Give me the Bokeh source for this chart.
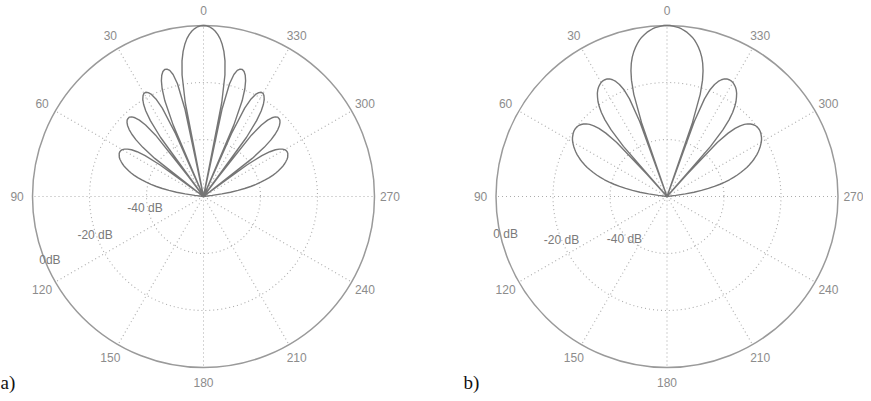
import numpy as np
from bokeh.plotting import figure
from bokeh.layouts import row
from bokeh.models import Range1d, Label
from bokeh.core.properties import value
from bokeh.embed import file_html
from bokeh.resources import INLINE

# ---------------- data ----------------
DB_MIN = -60.0
RING_DB = [-40, -20, 0]
RING_LABELS_A = ["-40 dB", "-20 dB", "0dB"]
RING_LABELS_B = ["-40 dB", "-20 dB", "0 dB"]
ANGLE_TICKS = [0, 30, 60, 90, 120, 150, 180, 210, 240, 270, 300, 330]
ANGLE_LABELS = [str(a) for a in ANGLE_TICKS]

# pattern a) : angle (deg from broadside, one side; pattern is symmetric) and level in dB
ANG_A = [0, 1, 2, 3, 4, 5, 6, 7, 8, 9, 10, 11, 11.54, 12, 13, 14, 15, 16, 17, 18, 19, 20,
         21, 22, 23, 23.58, 24, 25, 26, 27, 28, 29, 30, 31, 32, 33, 34, 35, 36, 36.87, 37,
         38, 39, 40, 41, 42, 43, 44, 45, 46, 47, 48, 49, 50, 51, 52, 53, 53.13, 54, 55, 56,
         57, 58, 59, 60, 61, 62, 63, 64, 65, 66, 67, 68, 69, 70, 71, 72, 73, 74, 75, 76, 77,
         78, 79, 80, 81, 82, 83, 84, 86, 88, 90]
DB_A = [0.0, -0.1, -0.4, -1.0, -1.8, -2.9, -4.3, -6.2, -8.6, -11.8, -16.7, -26.4, -60, -28.5,
        -19.4, -15.9, -14.2, -13.5, -13.4, -13.9, -15.0, -16.8,
        -19.5, -23.8, -32.7, -60, -35.8, -25.8, -21.9, -19.8, -18.7, -18.2, -18.2, -18.8, -19.8,
        -21.4, -23.8, -27.5, -34.3, -60, -51.1,
        -32.7, -27.7, -25.0, -23.4, -22.4, -21.9, -21.9, -22.1, -22.7, -23.6, -24.9, -26.7, -29.1,
        -32.6, -38.3, -57.3, -60, -41.2, -35.0, -31.9,
        -29.9, -28.6, -27.7, -27.1, -26.8, -26.7, -26.8, -27.1, -27.4, -27.9, -28.6, -29.3, -30.1,
        -31.1, -32.2, -33.3, -34.6, -36.0, -37.6, -39.3, -41.1,
        -43.1, -45.3, -47.7, -50.4, -53.5, -56.9, -60, -60, -60, -60]

# pattern b)
ANG_B = [0, 1, 2, 3, 4, 5, 6, 7, 8, 9, 10, 11, 12, 13, 14, 15, 16, 17, 18, 19, 19.47, 20,
         21, 22, 23, 24, 25, 26, 27, 28, 29, 30, 31, 32, 33, 34, 35, 36, 37, 38, 39, 40, 41,
         41.81, 42, 43, 44, 45, 46, 47, 48, 49, 50, 51, 52, 53, 54, 55, 56, 57, 58, 59, 60,
         61, 62, 63, 64, 65, 66, 67, 68, 69, 70, 71, 72, 73, 74, 75, 76, 77, 78, 79, 80, 81,
         82, 83, 84, 86, 88, 90]
DB_B = [0.0, 0.0, -0.2, -0.4, -0.6, -1.0, -1.5, -2.0, -2.7, -3.4, -4.3, -5.4, -6.6, -8.0, -9.6,
        -11.6, -14.1, -17.4, -22.3, -32.6, -60, -32.0,
        -23.3, -19.5, -17.3, -15.8, -14.8, -14.1, -13.7, -13.6, -13.6, -13.8, -14.2, -14.7, -15.4,
        -16.3, -17.5, -18.8, -20.5, -22.6, -25.4, -29.5, -36.7,
        -60, -49.6, -34.0, -29.1, -26.2, -24.3, -22.9, -21.9, -21.2, -20.7, -20.3, -20.1, -20.0,
        -20.0, -20.1, -20.3, -20.6, -20.9, -21.3, -21.8,
        -22.4, -23.0, -23.7, -24.4, -25.2, -26.1, -27.0, -28.0, -29.1, -30.2, -31.5, -32.8, -34.2,
        -35.7, -37.3, -39.1, -40.9, -43.0, -45.2, -47.7, -50.4,
        -53.5, -56.9, -60, -60, -60, -60]

# ---------------- styling / layout ----------------
S = 171.0  # pixels per unit radius
H = 393
GRID_COLOR = "#acacac"
CIRCLE_COLOR = "#9a9a9a"
CURVE_COLOR = "#767676"
TEXT_COLOR = "#8c8c8c"
FONT = "Liberation Sans"


def rad(db):
    return (np.maximum(np.asarray(db, dtype=float), DB_MIN) - DB_MIN) / (0 - DB_MIN)


def polar_xy(theta_deg, r):
    t = np.radians(np.asarray(theta_deg, dtype=float))
    return -r * np.sin(t), r * np.cos(t)


def make_panel(width, cx, cy_top, ang, db, ring_labels, ring_label_pos, tag, tag_x):
    p = figure(width=width, height=H,
               x_range=Range1d(-cx / S, (width - cx) / S),
               y_range=Range1d(-(H - cy_top) / S, cy_top / S),
               output_backend="svg", toolbar_location=None,
               x_axis_type=None, y_axis_type=None, min_border=0)
    p.grid.visible = False
    p.outline_line_color = None
    p.background_fill_color = "white"
    p.border_fill_color = "white"

    # spokes
    xs, ys = [], []
    for a in ANGLE_TICKS:
        x1, y1 = polar_xy(a, 1.0)
        xs.append([0, float(x1)])
        ys.append([0, float(y1)])
    p.multi_line(xs, ys, line_color=GRID_COLOR, line_width=1.1, line_dash="1 3")

    # rings
    rr = rad(RING_DB)
    p.circle(x=[0, 0], y=[0, 0], radius=list(rr[:-1]), fill_color=None,
             line_color=GRID_COLOR, line_width=1.1, line_dash="1 3")
    p.circle(x=[0], y=[0], radius=[float(rr[-1])], fill_color=None,
             line_color=CIRCLE_COLOR, line_width=1.5)

    # pattern (symmetric about 0 deg)
    ang = np.asarray(ang, dtype=float)
    db = np.asarray(db, dtype=float)
    full_ang = np.concatenate([-ang[::-1], ang[1:]])
    full_db = np.concatenate([db[::-1], db[1:]])
    x, y = polar_xy(full_ang, rad(full_db))
    p.line(x, y, line_color=CURVE_COLOR, line_width=1.4)

    # angle labels
    lx, ly = polar_xy(ANGLE_TICKS, 1.09)
    p.text(x=list(lx), y=list(ly), text=ANGLE_LABELS, text_font=value(FONT),
           text_font_size="12px", text_color=TEXT_COLOR, text_align="center",
           text_baseline="middle")

    # ring labels
    p.text(x=[q[0] for q in ring_label_pos], y=[q[1] for q in ring_label_pos],
           text=ring_labels, text_font=value(FONT), text_font_size="12px",
           text_color="#7a7a7a", text_align="center", text_baseline="middle")

    p.add_layout(Label(x=tag_x, y=1, x_units="screen", y_units="screen", text=tag,
                       text_font="Liberation Serif", text_font_size="19px",
                       text_color="#111111"))
    return p


pa = make_panel(427, 203.0, 196.0, ANG_A, DB_A, RING_LABELS_A,
                [(-0.342, -0.070), (-0.634, -0.225), (-0.898, -0.371)], "a)", 0)
pb = make_panel(436, 239.5, 196.0, ANG_B, DB_B, RING_LABELS_B,
                [(-0.249, -0.251), (-0.617, -0.257), (-0.944, -0.222)], "b)", 36)

layout = row(pa, pb)
open("out.html", "w").write(file_html(layout, INLINE))
